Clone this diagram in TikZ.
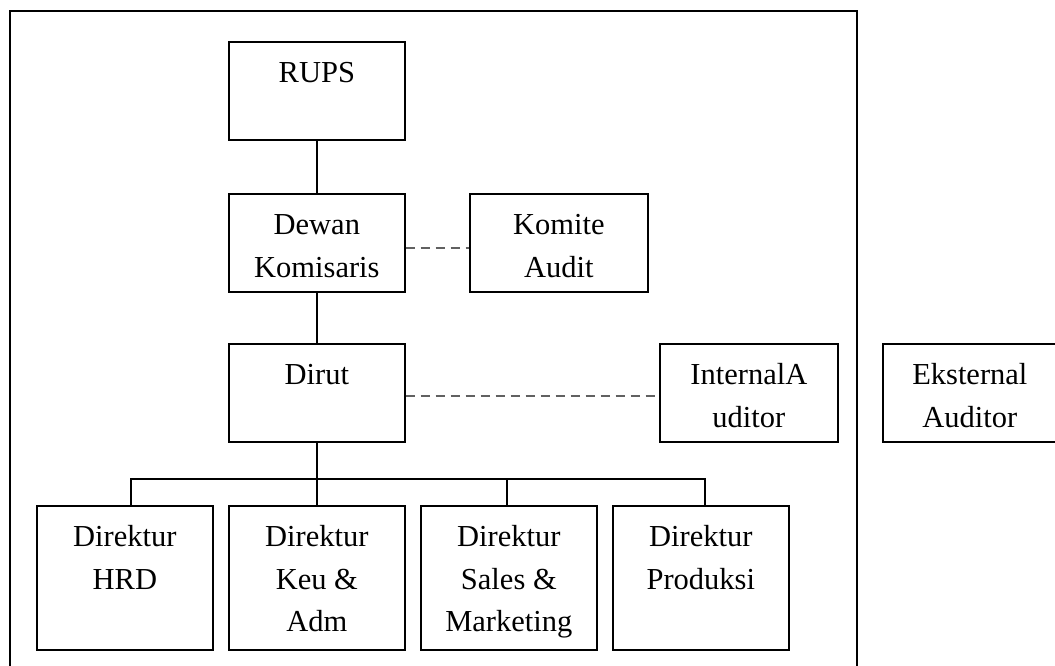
\documentclass[tikz,border=0pt]{standalone}
\usepackage{fontspec}
\setmainfont{Liberation Serif}
\newcommand{\bxt}[3]{\parbox[c][#2][t]{#1}{\centering\fontsize{30.5pt}{42.5pt}\selectfont\rule{0pt}{41pt}#3\par}}
\tikzset{
  orgbox/.style={draw, line width=1.7pt, inner sep=0pt, anchor=north west},
  solidline/.style={line width=1.7pt},
  dashline/.style={line width=2.2pt, draw=black!62, dash pattern=on 9pt off 6pt},
}
\begin{document}
\begin{tikzpicture}[x=1pt,y=-1pt]
\useasboundingbox (0,0) rectangle (1055,666);
\draw[solidline] (10,11) rectangle (857,690);
% top chain
\node[orgbox] (rups) at (228,41) {\bxt{176pt}{98pt}{RUPS}};
\node[orgbox] (dewan) at (228,193) {\bxt{176pt}{98pt}{Dewan\\Komisaris}};
\node[orgbox] (komite) at (469,193) {\bxt{178pt}{98pt}{Komite\\Audit}};
\node[orgbox] (dirut) at (228,343) {\bxt{176pt}{98pt}{Dirut}};
\node[orgbox] (internal) at (659,343) {\bxt{178pt}{98pt}{InternalA\\uditor}};
\node[orgbox] (eksternal) at (882,343) {\bxt{174pt}{98pt}{Eksternal\\Auditor}};
% bottom row
\node[orgbox] (hrd) at (36,505) {\bxt{176pt}{144pt}{Direktur\\HRD}};
\node[orgbox] (keu) at (228,505) {\bxt{176pt}{144pt}{Direktur\\Keu \&\\Adm}};
\node[orgbox] (sales) at (420,505) {\bxt{176pt}{144pt}{Direktur\\Sales \&\\Marketing}};
\node[orgbox] (prod) at (612,505) {\bxt{176pt}{144pt}{Direktur\\Produksi}};
% connectors
\coordinate (bus) at (316,479);
\draw[solidline] (rups.south) -- (dewan.north);
\draw[solidline] (dewan.south) -- (dirut.north);
\draw[solidline] (dirut.south) -- (keu.north);
\draw[solidline] ([xshift=6pt]hrd.north) -- ([xshift=6pt]hrd.north |- bus) -| ([xshift=4pt]prod.north);
\draw[solidline] ([xshift=-2pt]sales.north) -- ([xshift=-2pt]sales.north |- bus);
\draw[dashline] ([yshift=-5pt]dewan.east) -- ([yshift=-5pt]komite.west);
\draw[dashline] ([yshift=-3pt]dirut.east) -- ([yshift=-3pt]internal.west);
\end{tikzpicture}
\end{document}
